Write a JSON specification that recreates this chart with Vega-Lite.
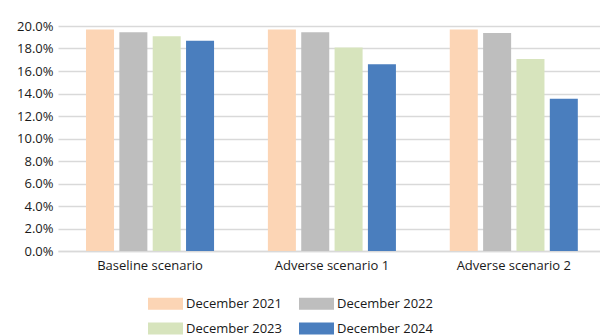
{
  "$schema": "https://vega.github.io/schema/vega-lite/v6.json",
  "width": 542,
  "height": 225,
  "autosize": {"type": "none"},
  "padding": {"left": 58, "top": 26, "right": 0, "bottom": 85},
  "background": "white",
  "data": {
    "values": [
      {"scenario": "Baseline scenario", "period": "December 2021", "value": 19.68},
      {"scenario": "Baseline scenario", "period": "December 2022", "value": 19.44},
      {"scenario": "Baseline scenario", "period": "December 2023", "value": 19.09},
      {"scenario": "Baseline scenario", "period": "December 2024", "value": 18.7},
      {"scenario": "Adverse scenario 1", "period": "December 2021", "value": 19.68},
      {"scenario": "Adverse scenario 1", "period": "December 2022", "value": 19.44},
      {"scenario": "Adverse scenario 1", "period": "December 2023", "value": 18.1},
      {"scenario": "Adverse scenario 1", "period": "December 2024", "value": 16.6},
      {"scenario": "Adverse scenario 2", "period": "December 2021", "value": 19.68},
      {"scenario": "Adverse scenario 2", "period": "December 2022", "value": 19.38},
      {"scenario": "Adverse scenario 2", "period": "December 2023", "value": 17.07},
      {"scenario": "Adverse scenario 2", "period": "December 2024", "value": 13.53}
    ]
  },
  "mark": {"type": "bar"},
  "encoding": {
    "x": {
      "field": "scenario",
      "type": "nominal",
      "sort": ["Baseline scenario", "Adverse scenario 1", "Adverse scenario 2"],
      "scale": {"paddingInner": 0.296, "paddingOuter": 0.138, "align": 0.558},
      "axis": {
        "title": null,
        "labelAngle": 0,
        "ticks": false,
        "domainColor": "#D9D9D9",
        "domainWidth": 1.5,
        "labelFont": "Open Sans",
        "labelFontSize": 13,
        "labelColor": "#1a1a1a",
        "labelPadding": 8
      }
    },
    "xOffset": {
      "field": "period",
      "type": "nominal",
      "scale": {"paddingInner": 0.16, "paddingOuter": 0}
    },
    "y": {
      "field": "value",
      "type": "quantitative",
      "scale": {"domain": [0, 20], "nice": false},
      "axis": {
        "title": null,
        "values": [0, 2, 4, 6, 8, 10, 12, 14, 16, 18, 20],
        "labelExpr": "format(datum.value, '.1f') + '%'",
        "labelOverlap": false,
        "ticks": false,
        "domain": false,
        "gridColor": "#D9D9D9",
        "gridWidth": 1.5,
        "labelFont": "Open Sans",
        "labelFontSize": 13,
        "labelColor": "#1a1a1a",
        "labelPadding": 5
      }
    },
    "color": {
      "field": "period",
      "type": "nominal",
      "scale": {
        "domain": ["December 2021", "December 2022", "December 2023", "December 2024"],
        "range": ["#FCD5B5", "#BEBEBE", "#D7E4BD", "#4A7EBE"]
      },
      "legend": {
        "title": null,
        "orient": "none",
        "legendX": 90,
        "legendY": 260,
        "direction": "horizontal",
        "columns": 2,
        "columnPadding": 17,
        "rowPadding": -11,
        "symbolType": "M-1,-0.34H1V0.34H-1Z",
        "symbolSize": 1225,
        "symbolStrokeWidth": 0,
        "symbolOpacity": 1,
        "labelFont": "Open Sans",
        "labelFontSize": 13,
        "labelColor": "#1a1a1a",
        "labelOffset": 3
      }
    }
  },
  "config": {"view": {"stroke": null}}
}
